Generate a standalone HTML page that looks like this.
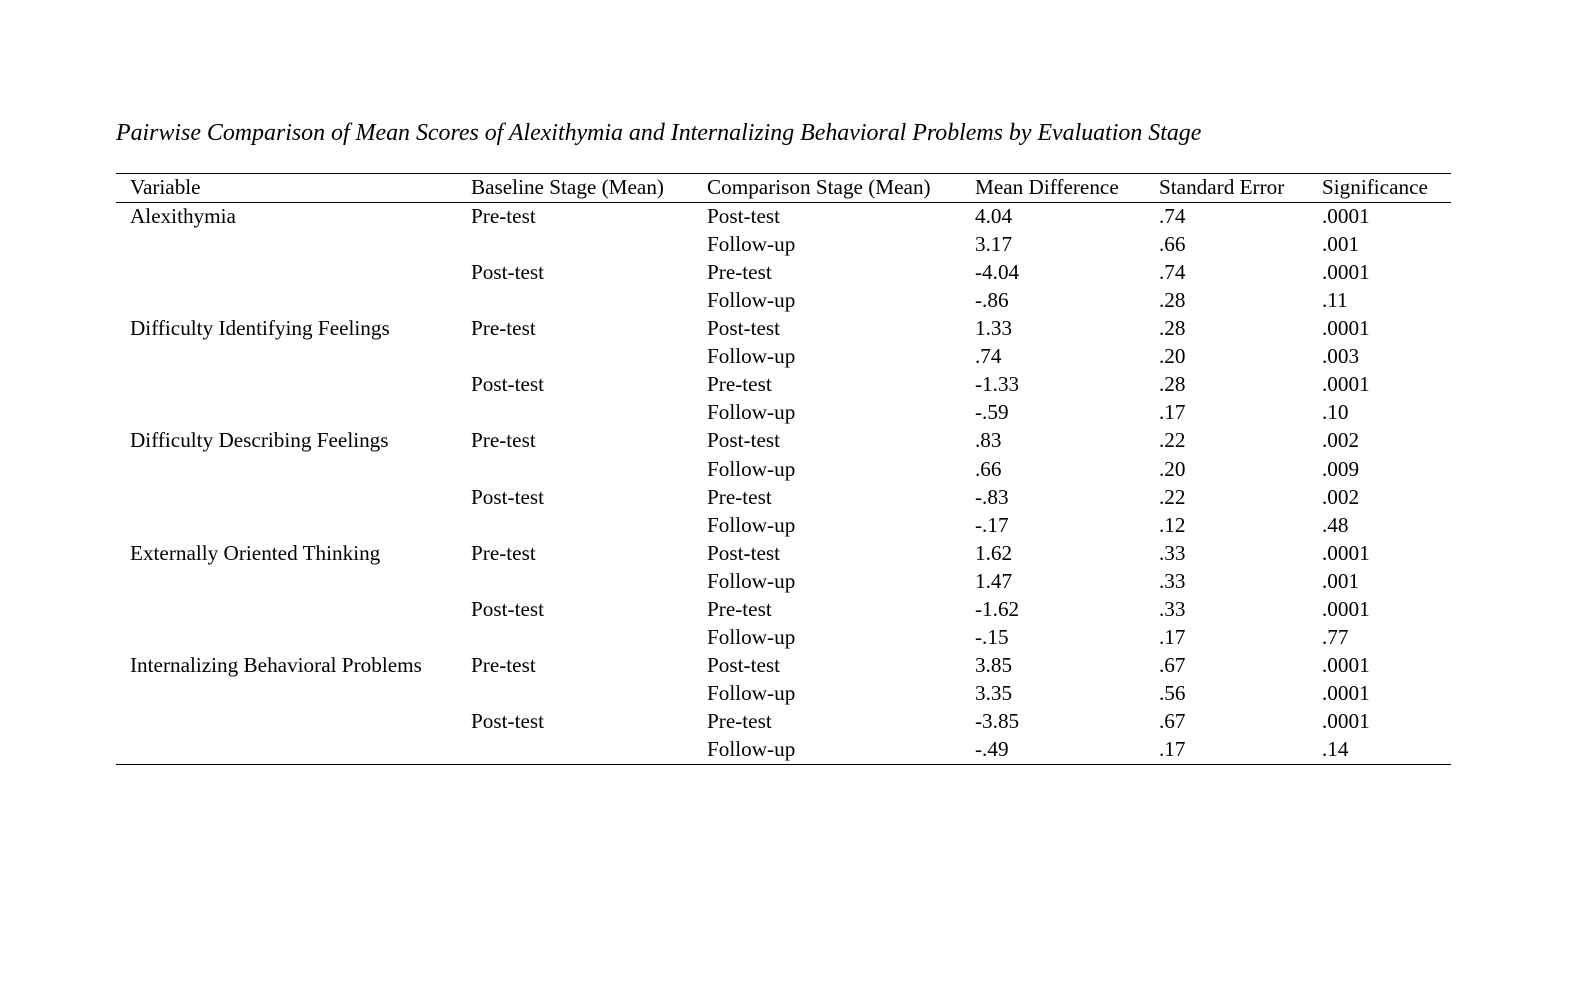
<!DOCTYPE html>
<html><head><meta charset="utf-8"><style>
body{margin:0;width:1570px;height:984px;background:#fff;position:relative;font-family:"Liberation Serif",serif;color:#000;overflow:hidden}
.t{position:absolute;left:116px;top:118px;font-size:23.9px;font-style:italic;white-space:nowrap;line-height:30px}
.l{position:absolute;left:116px;width:1335px;height:1px;background:#000}
.r{position:absolute;left:0;height:28px;line-height:28px;font-size:21.2px;white-space:nowrap;width:1570px}
.r span{position:absolute;top:0}
.c1{left:130px}.c2{left:471px}.c3{left:707px}.c4{left:975px}.c5{left:1159px}.c6{left:1322px}
</style></head><body>
<div class="t">Pairwise Comparison of Mean Scores of Alexithymia and Internalizing Behavioral Problems by Evaluation Stage</div>
<div class="l" style="top:173px"></div>
<div class="l" style="top:202px"></div>
<div class="l" style="top:764px"></div>
<div class="r" style="top:173px"><span class="c1">Variable</span><span class="c2">Baseline Stage (Mean)</span><span class="c3">Comparison Stage (Mean)</span><span class="c4">Mean Difference</span><span class="c5">Standard Error</span><span class="c6">Significance</span></div>
<div id="rows"></div>
<script>
var d=[
["Alexithymia","Pre-test","Post-test","4.04",".74",".0001"],
["","","Follow-up","3.17",".66",".001"],
["","Post-test","Pre-test","-4.04",".74",".0001"],
["","","Follow-up","-.86",".28",".11"],
["Difficulty Identifying Feelings","Pre-test","Post-test","1.33",".28",".0001"],
["","","Follow-up",".74",".20",".003"],
["","Post-test","Pre-test","-1.33",".28",".0001"],
["","","Follow-up","-.59",".17",".10"],
["Difficulty Describing Feelings","Pre-test","Post-test",".83",".22",".002"],
["","","Follow-up",".66",".20",".009"],
["","Post-test","Pre-test","-.83",".22",".002"],
["","","Follow-up","-.17",".12",".48"],
["Externally Oriented Thinking","Pre-test","Post-test","1.62",".33",".0001"],
["","","Follow-up","1.47",".33",".001"],
["","Post-test","Pre-test","-1.62",".33",".0001"],
["","","Follow-up","-.15",".17",".77"],
["Internalizing Behavioral Problems","Pre-test","Post-test","3.85",".67",".0001"],
["","","Follow-up","3.35",".56",".0001"],
["","Post-test","Pre-test","-3.85",".67",".0001"],
["","","Follow-up","-.49",".17",".14"]];
var h="";
d.forEach(function(r,i){var top=(216+i*28.05-14).toFixed(1);h+='<div class="r" style="top:'+top+'px">';r.forEach(function(c,j){h+='<span class="c'+(j+1)+'">'+c+'</span>'});h+='</div>'});
document.getElementById("rows").innerHTML=h;
</script>
</body></html>
